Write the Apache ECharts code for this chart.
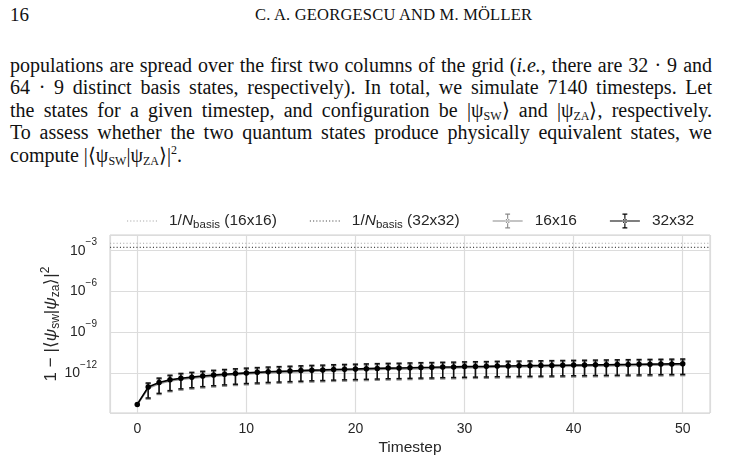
<!DOCTYPE html>
<html>
<head>
<meta charset="utf-8">
<script src="https://cdn.jsdelivr.net/npm/echarts@6/dist/echarts.min.js"></script>
<style>
html, body { margin: 0; padding: 0; background: #fff; }
#page { position: relative; width: 750px; height: 461px; overflow: hidden; }
#chart { position: absolute; left: 0; top: 0; width: 750px; height: 461px; }
.tx { position: absolute; font-family: "Liberation Serif", serif; color: #111; white-space: nowrap; }
.ln { left: 10px; width: 702px; font-size: 20px; line-height: 22px; text-align: justify; text-align-last: justify; }
.ln sub { font-size: 12px; vertical-align: -3px; line-height: 0; }
.ln sup { font-size: 12px; vertical-align: 8px; line-height: 0; }
</style>
</head>
<body>
<div id="page">
  <div class="tx" style="left:10px;top:4px;font-size:19px;">16</div>
  <div class="tx" style="left:255px;top:5px;font-size:16.5px;letter-spacing:0.2px;">C. A. GEORGESCU AND M. MÖLLER</div>
  <div class="tx ln" style="top:54px;">populations are spread over the first two columns of the grid (<i>i.e.</i>, there are 32 · 9 and</div>
  <div class="tx ln" style="top:76px;">64 · 9 distinct basis states, respectively). In total, we simulate 7140 timesteps. Let</div>
  <div class="tx ln" style="top:99px;">the states for a given timestep, and configuration be |ψ<sub>SW</sub>⟩ and |ψ<sub>ZA</sub>⟩, respectively.</div>
  <div class="tx ln" style="top:121px;">To assess whether the two quantum states produce physically equivalent states, we</div>
  <div class="tx ln" style="top:144px;text-align:left;text-align-last:left;">compute |⟨ψ<sub>SW</sub>|ψ<sub>ZA</sub>⟩|<sup>2</sup>.</div>
  <div id="chart"></div>
</div>
<script>
// values are log10 of 1 - |<psi_sw|psi_za>|^2
const timesteps = [0, 1, 2, 3, 4, 5, 6, 7, 8, 9, 10, 11, 12, 13, 14, 15, 16, 17, 18, 19, 20,
  21, 22, 23, 24, 25, 26, 27, 28, 29, 30, 31, 32, 33, 34, 35, 36, 37, 38, 39, 40,
  41, 42, 43, 44, 45, 46, 47, 48, 49, 50];

const mean32 = [-14.27, -13.00, -12.66, -12.47, -12.35, -12.27, -12.19, -12.12, -12.06, -12.01, -11.96,
  -11.92, -11.88, -11.85, -11.82, -11.79, -11.76, -11.74, -11.71, -11.69, -11.67,
  -11.65, -11.63, -11.61, -11.60, -11.58, -11.56, -11.55, -11.53, -11.52, -11.50,
  -11.49, -11.48, -11.46, -11.45, -11.44, -11.43, -11.42, -11.41, -11.40, -11.39,
  -11.38, -11.37, -11.36, -11.35, -11.34, -11.33, -11.32, -11.31, -11.30, -11.29];
const up32 = [0, 0.30, 0.32, 0.34, 0.35, 0.35, 0.35, 0.35, 0.35, 0.35, 0.35,
  0.35, 0.35, 0.35, 0.35, 0.35, 0.35, 0.35, 0.35, 0.35, 0.35,
  0.35, 0.35, 0.35, 0.35, 0.35, 0.35, 0.35, 0.35, 0.35, 0.35,
  0.35, 0.35, 0.35, 0.35, 0.35, 0.35, 0.35, 0.35, 0.35, 0.35,
  0.35, 0.35, 0.35, 0.35, 0.35, 0.35, 0.35, 0.35, 0.35, 0.35];
const down32 = [0, 0.80, 0.80, 0.79, 0.78, 0.78, 0.78, 0.78, 0.78, 0.78, 0.78,
  0.78, 0.78, 0.78, 0.78, 0.78, 0.78, 0.78, 0.78, 0.78, 0.78,
  0.78, 0.78, 0.78, 0.78, 0.78, 0.78, 0.78, 0.78, 0.78, 0.78,
  0.78, 0.78, 0.78, 0.78, 0.78, 0.78, 0.78, 0.78, 0.78, 0.78,
  0.78, 0.78, 0.78, 0.78, 0.78, 0.78, 0.78, 0.78, 0.78, 0.78];

const mean16 = [-14.27, -13.08, -12.74, -12.54, -12.42, -12.34, -12.26, -12.19, -12.13, -12.08, -12.03,
  -11.99, -11.95, -11.92, -11.89, -11.86, -11.83, -11.81, -11.78, -11.76, -11.74,
  -11.72, -11.70, -11.68, -11.67, -11.65, -11.63, -11.62, -11.60, -11.59, -11.57,
  -11.56, -11.55, -11.53, -11.52, -11.51, -11.50, -11.49, -11.48, -11.47, -11.46,
  -11.45, -11.44, -11.43, -11.42, -11.41, -11.40, -11.39, -11.38, -11.37, -11.36];
const up16 = [0, 0.32, 0.33, 0.34, 0.34, 0.34, 0.34, 0.34, 0.34, 0.34, 0.34,
  0.34, 0.34, 0.34, 0.34, 0.34, 0.34, 0.34, 0.34, 0.34, 0.34,
  0.34, 0.34, 0.34, 0.34, 0.34, 0.34, 0.34, 0.34, 0.34, 0.34,
  0.34, 0.34, 0.34, 0.34, 0.34, 0.34, 0.34, 0.34, 0.34, 0.34,
  0.34, 0.34, 0.34, 0.34, 0.34, 0.34, 0.34, 0.34, 0.34, 0.34];
const down16 = [0, 0.80, 0.80, 0.80, 0.80, 0.80, 0.80, 0.80, 0.80, 0.80, 0.80,
  0.80, 0.80, 0.80, 0.80, 0.80, 0.80, 0.80, 0.80, 0.80, 0.80,
  0.80, 0.80, 0.80, 0.80, 0.80, 0.80, 0.80, 0.80, 0.80, 0.80,
  0.80, 0.80, 0.80, 0.80, 0.80, 0.80, 0.80, 0.80, 0.80, 0.80,
  0.80, 0.80, 0.80, 0.80, 0.80, 0.80, 0.80, 0.80, 0.80, 0.80];

// number of basis states (32*9 and 64*9)
const nBasis16 = 288;
const nBasis32 = 576;
const yTicks = [-3, -6, -9, -12];
const xTicks = [0, 10, 20, 30, 40, 50];

const FONT = '"Liberation Sans", Arial, sans-serif';
const TXT = '#262626';
const X_MIN = -2.5, X_MAX = 52.5;

function pairs(mean) {
  return timesteps.map((t, i) => [t, mean[i]]);
}
function bars(mean, up, down) {
  return timesteps.map((t, i) => [t, mean[i] - down[i], mean[i] + up[i]]);
}
function hline(n) {
  const v = Math.log10(1 / n);
  return [[X_MIN, v], [X_MAX, v]];
}

function errRender(color, width) {
  return function (params, api) {
    const x = api.value(0);
    const lo = api.coord([x, api.value(1)]);
    const hi = api.coord([x, api.value(2)]);
    if (Math.abs(lo[1] - hi[1]) < 0.5) return { type: 'group', children: [] };
    const c = 2.6;
    const style = { stroke: color, lineWidth: width };
    return {
      type: 'group',
      children: [
        { type: 'line', shape: { x1: lo[0], y1: lo[1], x2: hi[0], y2: hi[1] }, style: style },
        { type: 'line', shape: { x1: hi[0] - c, y1: hi[1], x2: hi[0] + c, y2: hi[1] }, style: style },
        { type: 'line', shape: { x1: lo[0] - c, y1: lo[1], x2: lo[0] + c, y2: lo[1] }, style: style }
      ]
    };
  };
}

// legend glyphs: line with marker and error bar, and a dotted line
const barIcon = 'path://M0,9.4H32V10.6H0Z M15.4,2H16.6V18H15.4Z M13.4,2H18.6V3.3H13.4Z M13.4,16.7H18.6V18H13.4Z M13.6,10A2.4,2.4 0 1 0 18.4,10A2.4,2.4 0 1 0 13.6,10Z';
const dotIcon = 'path://M0,0H1.1V1.1H0Z M3.1,0H4.2V1.1H3.1Z M6.2,0H7.3V1.1H6.2Z M9.3,0H10.4V1.1H9.3Z M12.4,0H13.5V1.1H12.4Z M15.5,0H16.6V1.1H15.5Z M18.6,0H19.7V1.1H18.6Z M21.7,0H22.8V1.1H21.7Z M24.8,0H25.9V1.1H24.8Z M27.9,0H29V1.1H27.9Z';

const legendNames = {
  n16: '1/{i|N}{sub|basis} (16x16)',
  n32: '1/{i|N}{sub|basis} (32x32)',
  '16x16': '16x16',
  '32x32': '32x32'
};

const chart = echarts.init(document.getElementById('chart'), null, { renderer: 'canvas' });
chart.setOption({
  animation: false,
  backgroundColor: 'transparent',
  textStyle: { fontFamily: FONT },
  grid: { left: 110, right: 40, top: 235, bottom: 48, show: true, borderColor: '#cfcfcf', borderWidth: 1 },
  legend: {
    left: 122,
    top: 208,
    itemWidth: 30,
    itemHeight: 16,
    itemGap: 33,
    symbolKeepAspect: true,
    textStyle: {
      fontFamily: FONT, fontSize: 15.5, color: TXT, padding: [0, 0, 0, 7],
      rich: {
        i: { fontFamily: FONT, fontSize: 15.5, color: TXT, fontStyle: 'italic' },
        sub: { fontFamily: FONT, fontSize: 11.5, color: TXT, padding: [7, 0, 0, 0] }
      }
    },
    formatter: name => legendNames[name],
    data: [
      { name: 'n16', icon: dotIcon, itemStyle: { color: '#a8a8a8' } },
      { name: 'n32', icon: dotIcon, itemStyle: { color: '#4a4a4a' } },
      { name: '16x16', icon: barIcon, itemStyle: { color: '#8a8a8a' } },
      { name: '32x32', icon: barIcon, itemStyle: { color: '#000' } }
    ]
  },
  xAxis: {
    type: 'value',
    min: X_MIN,
    max: X_MAX,
    name: 'Timestep',
    nameLocation: 'middle',
    nameGap: 27,
    nameMoveOverlap: false,
    nameTextStyle: { fontFamily: FONT, fontSize: 15.5, color: TXT },
    axisLine: { show: false },
    axisTick: { show: false },
    axisLabel: {
      fontFamily: FONT, fontSize: 14, color: TXT, margin: 9,
      formatter: v => xTicks.includes(v) ? String(v) : ''
    },
    splitLine: { lineStyle: { color: '#dcdcdc', width: 1.2 } }
  },
  yAxis: {
    type: 'value',
    min: -14.9,
    max: -1.85,
    splitNumber: 5,
    name: '1 − |⟨{i|ψ}{s|sw}|{i|ψ}{s|za}⟩|{p|2}',
    nameLocation: 'middle',
    nameGap: 47,
    nameMoveOverlap: false,
    nameTextStyle: {
      fontFamily: FONT, fontSize: 17, color: TXT,
      rich: {
        i: { fontFamily: FONT, fontSize: 17, color: TXT, fontStyle: 'italic' },
        s: { fontFamily: FONT, fontSize: 12, color: TXT, padding: [8, 0, 0, 0] },
        p: { fontFamily: FONT, fontSize: 12, color: TXT, padding: [0, 0, 11, 0] }
      }
    },
    axisLine: { show: false },
    axisTick: { show: false },
    axisLabel: {
      fontFamily: FONT, fontSize: 14, color: TXT, margin: 13,
      formatter: v => {
        const r = Math.round(v);
        if (Math.abs(v - r) > 1e-6 || !yTicks.includes(r)) return '';
        return '10{sup|−' + (-r) + '}';
      },
      rich: {
        sup: { fontFamily: FONT, fontSize: 10, color: TXT, padding: [0, 0, 16, 0] }
      }
    },
    splitLine: { lineStyle: { color: '#dcdcdc', width: 1.2 } }
  },
  series: [
    {
      name: 'n16', type: 'line', data: hline(nBasis16), symbol: 'none', silent: true,
      lineStyle: { color: '#a8a8a8', width: 1.1, type: [1.1, 2.2] }, itemStyle: { color: '#a8a8a8' }
    },
    {
      name: 'n32', type: 'line', data: hline(nBasis32), symbol: 'none', silent: true,
      lineStyle: { color: '#4a4a4a', width: 1.1, type: [1.1, 2.2] }, itemStyle: { color: '#4a4a4a' }
    },
    {
      name: 'err16', type: 'custom', data: bars(mean16, up16, down16),
      encode: { x: 0, y: [1, 2] }, renderItem: errRender('#8a8a8a', 1.5), z: 3, silent: true
    },
    {
      name: '16x16', type: 'line', data: pairs(mean16), symbol: 'circle', symbolSize: 4,
      lineStyle: { color: '#9a9a9a', width: 2 }, itemStyle: { color: '#8a8a8a' }, z: 4
    },
    {
      name: 'err32', type: 'custom', data: bars(mean32, up32, down32),
      encode: { x: 0, y: [1, 2] }, renderItem: errRender('#111', 1.5), z: 5, silent: true
    },
    {
      name: '32x32', type: 'line', data: pairs(mean32), symbol: 'circle', symbolSize: 5.5,
      lineStyle: { color: '#000', width: 1.6 }, itemStyle: { color: '#000' }, z: 6
    }
  ]
});
</script>
</body>
</html>
